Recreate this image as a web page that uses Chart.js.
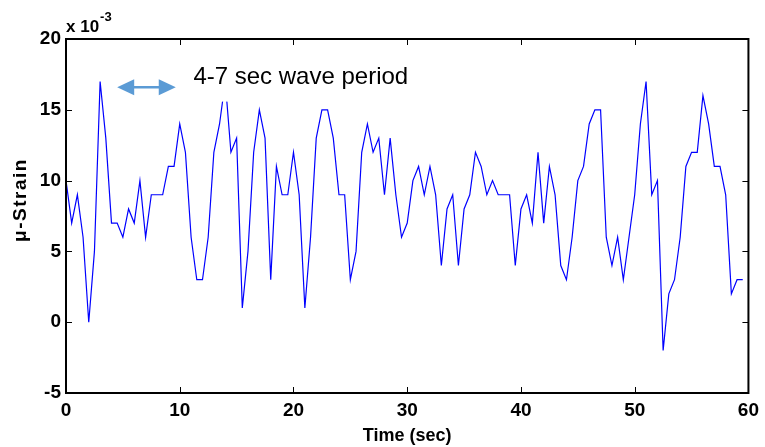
<!DOCTYPE html>
<html>
<head>
<meta charset="utf-8">
<script src="https://cdn.jsdelivr.net/npm/chart.js@4.4.1/dist/chart.umd.min.js"></script>
<style>
html,body{margin:0;padding:0;background:#fff;}
#wrap{width:765px;height:447px;position:relative;}
</style>
</head>
<body>
<div id="wrap"><canvas id="c" width="765" height="447"></canvas></div>
<script>
// Time axis (sec)
const times = [
 0,0.5,1,1.5,2,2.5,3,3.5,4,4.5,
 5,5.5,6,6.5,7,7.5,8,8.5,9,9.5,
 10,10.5,11,11.5,12,12.5,13,13.5,14,14.5,
 15,15.5,16,16.5,17,17.5,18,18.5,19,19.5,
 20,20.5,21,21.5,22,22.5,23,23.5,24,24.5,
 25,25.5,26,26.5,27,27.5,28,28.5,29,29.5,
 30,30.5,31,31.5,32,32.5,33,33.5,34,34.5,
 35,35.5,36,36.5,37,37.5,38,38.5,39,39.5,
 40,40.5,41,41.5,42,42.5,43,43.5,44,44.5,
 45,45.5,46,46.5,47,47.5,48,48.5,49,49.5,
 50,50.5,51,51.5,52,52.5,53,53.5,54,54.5,
 55,55.5,56,56.5,57,57.5,58,58.5,59,59.5
];
// Micro-strain values in units of 10^-3
const strain = [
 10,7,9,6,0,5,17,13,7,7,
 6,8,7,10,6,9,9,9,11,11,
 14,12,6,3,3,6,12,14,17,12,
 13,1,5,12,15,13,3,11,9,9,
 12,9,1,6,13,15,15,13,9,9,
 3,5,12,14,12,13,9,13,9,6,
 7,10,11,9,11,9,4,8,9,4,
 8,9,12,11,9,10,9,9,9,4,
 8,9,7,12,7,11,9,4,3,6,
 10,11,14,15,15,6,4,6,3,6,
 9,14,17,9,10,-2,2,3,6,11,
 12,12,16,14,11,11,9,2,3,3
];
const xTicks = [0,10,20,30,40,50,60];
const yTicks = [-5,0,5,10,15,20];
const xTitle = 'Time (sec)';
const yTitle = 'μ-Strain';
const expBase = 'x 10';
const expPow = '-3';
const noteText = '4-7 sec wave period';
const arrowRange = [4.5, 9.65];
const arrowLevel = 16.6;
const noteAnchor = [11.2, 16.85];

const FONT = "'Liberation Sans', Arial, Helvetica, sans-serif";

const points = times.map((t,i)=>({x:t, y:strain[i]}));

const frame = {
  id:'frame',
  afterDatasetsDraw(chart){
    const {ctx, chartArea:a, scales:{x,y}} = chart;
    ctx.save();
    // annotation text with white background
    ctx.font = `24px ${FONT}`;
    const tx = x.getPixelForValue(noteAnchor[0]);
    const ty = y.getPixelForValue(noteAnchor[1]);
    const w = ctx.measureText(noteText).width;
    ctx.fillStyle = '#fff';
    ctx.fillRect(tx-6, ty-28, w+12, 46);
    ctx.fillStyle = '#000';
    ctx.textBaseline = 'alphabetic';
    ctx.textAlign = 'left';
    ctx.fillText(noteText, tx, ty);
    // double arrow
    const ax1 = x.getPixelForValue(arrowRange[0]);
    const ax2 = x.getPixelForValue(arrowRange[1]);
    const ay = y.getPixelForValue(arrowLevel);
    ctx.strokeStyle = '#5b9bd5';
    ctx.fillStyle = '#5b9bd5';
    ctx.lineWidth = 2.5;
    ctx.beginPath(); ctx.moveTo(ax1+10, ay); ctx.lineTo(ax2-10, ay); ctx.stroke();
    ctx.beginPath(); ctx.moveTo(ax1, ay); ctx.lineTo(ax1+17, ay-8); ctx.lineTo(ax1+17, ay+8); ctx.closePath(); ctx.fill();
    ctx.beginPath(); ctx.moveTo(ax2, ay); ctx.lineTo(ax2-17, ay-8); ctx.lineTo(ax2-17, ay+8); ctx.closePath(); ctx.fill();
    // inner ticks
    ctx.strokeStyle = '#000';
    ctx.lineWidth = 1;
    ctx.beginPath();
    xTicks.forEach(v=>{
      const px = Math.round(x.getPixelForValue(v))+0.5;
      ctx.moveTo(px, a.bottom); ctx.lineTo(px, a.bottom-6);
      ctx.moveTo(px, a.top); ctx.lineTo(px, a.top+6);
    });
    yTicks.forEach(v=>{
      const py = Math.round(y.getPixelForValue(v))+0.5;
      ctx.moveTo(a.left, py); ctx.lineTo(a.left+6, py);
      ctx.moveTo(a.right, py); ctx.lineTo(a.right-6, py);
    });
    ctx.stroke();
    // box
    ctx.lineWidth = 2;
    ctx.strokeRect(a.left, a.top, a.right-a.left, a.bottom-a.top);
    // y title
    ctx.font = `bold 19px ${FONT}`;
    ctx.fillStyle = '#000';
    ctx.translate(21, (a.top+a.bottom)/2 - 16);
    ctx.rotate(-Math.PI/2);
    ctx.textAlign = 'center';
    ctx.textBaseline = 'middle';
    try { ctx.letterSpacing = '1.5px'; } catch(e) {}
    ctx.fillText(yTitle, 0, 0);
    try { ctx.letterSpacing = '0px'; } catch(e) {}
    ctx.setTransform(1,0,0,1,0,0);
    // exponent
    ctx.textAlign = 'left';
    ctx.textBaseline = 'alphabetic';
    ctx.font = `bold 17px ${FONT}`;
    ctx.fillText(expBase, a.left, 32);
    const bw = ctx.measureText(expBase).width;
    ctx.font = `bold 13px ${FONT}`;
    ctx.fillText(expPow, a.left + bw + 1, 21);
    ctx.restore();
  }
};

new Chart(document.getElementById('c'), {
  type:'line',
  data:{datasets:[{
    data: points,
    borderColor:'#0000ff',
    borderWidth:1.2,
    pointRadius:0,
    tension:0,
    fill:false
  }]},
  options:{
    responsive:false,
    animation:false,
    events:[],
    layout:{padding:{left:0,right:13,top:39,bottom:0}},
    plugins:{legend:{display:false},tooltip:{enabled:false}},
    scales:{
      x:{
        type:'linear', min:0, max:60,
        afterBuildTicks(s){ s.ticks = xTicks.map(v=>({value:v})); },
        afterFit(s){ s.height = 54; },
        grid:{display:false, drawTicks:false},
        border:{display:false},
        ticks:{color:'#000', font:{family:FONT, size:19, weight:'bold'}, padding:6, maxRotation:0, autoSkip:false},
        title:{display:true, text:xTitle, color:'#000', font:{family:FONT, size:18, weight:'bold'}, padding:{top:0,bottom:0}}
      },
      y:{
        type:'linear', min:-5, max:20,
        afterBuildTicks(s){ s.ticks = yTicks.map(v=>({value:v})); },
        afterFit(s){ s.width = 66; },
        grid:{display:false, drawTicks:false},
        border:{display:false},
        ticks:{color:'#000', font:{family:FONT, size:19, weight:'bold'}, padding:5, autoSkip:false}
      }
    }
  },
  plugins:[frame]
});
</script>
</body>
</html>
